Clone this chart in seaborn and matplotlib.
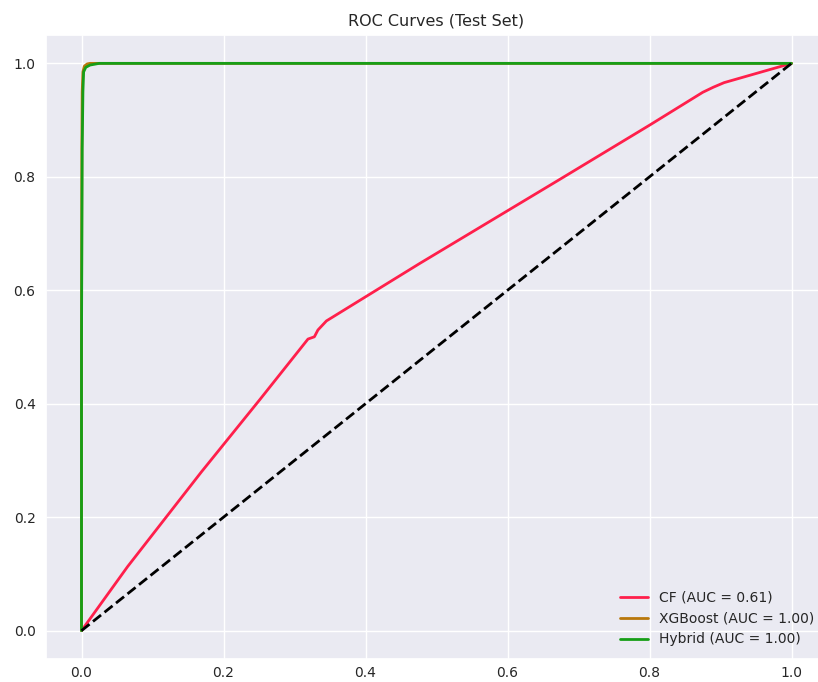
import numpy as np
import pandas as pd
import seaborn as sns
import matplotlib
matplotlib.use("Agg")
import matplotlib.pyplot as plt

# ROC curve points
cf_fpr = [0.0, 0.065, 0.169, 0.251, 0.319, 0.328, 0.333, 0.345, 0.476, 0.673, 0.800, 0.875, 0.890, 0.905, 1.0]
cf_tpr = [0.0, 0.113, 0.280, 0.407, 0.514, 0.518, 0.530, 0.546, 0.647, 0.795, 0.891, 0.949, 0.958, 0.966, 1.0]

xgb_fpr = [0.0, 0.0, 0.0005, 0.001, 0.002, 0.004, 0.008, 0.012, 1.0]
xgb_tpr = [0.0, 0.50, 0.85, 0.95, 0.985, 0.995, 0.999, 1.0, 1.0]

hyb_fpr = [0.0, 0.0, 0.001, 0.002, 0.003, 0.006, 0.012, 0.025, 1.0]
hyb_tpr = [0.0, 0.50, 0.85, 0.95, 0.985, 0.993, 0.997, 1.0, 1.0]

labels = ["CF (AUC = 0.61)", "XGBoost (AUC = 1.00)", "Hybrid (AUC = 1.00)"]
colors = ["#ff1f4b", "#b8770b", "#179e17"]

ticks = [0.0, 0.2, 0.4, 0.6, 0.8, 1.0]
tick_labels = ["0.0", "0.2", "0.4", "0.6", "0.8", "1.0"]

sns.set_theme(style="darkgrid")
plt.rcParams['font.family'] = ['DejaVu Sans']

fig = plt.figure(figsize=(8.18, 6.82), dpi=100)
ax = fig.add_axes([46 / 818, (682 - 659) / 682, 781 / 818, (659 - 35) / 682])

curves = [(cf_fpr, cf_tpr), (xgb_fpr, xgb_tpr), (hyb_fpr, hyb_tpr)]
for (fx, fy), lab, col in zip(curves, labels, colors):
    df = pd.DataFrame({"fpr": fx, "tpr": fy})
    sns.lineplot(data=df, x="fpr", y="tpr", ax=ax, label=lab, color=col,
                 linewidth=2, sort=False, estimator=None)

ax.plot([0, 1], [0, 1], linestyle="--", color="black", linewidth=2)

ax.set_xlim(-0.05, 1.05)
ax.set_ylim(-0.05, 1.05)
ax.set_xticks(ticks)
ax.set_xticklabels(tick_labels)
ax.set_yticks(ticks)
ax.set_yticklabels(tick_labels)
ax.tick_params(axis="y", labelsize=10, length=0, pad=7.5)
ax.tick_params(axis="x", labelsize=10, length=0, pad=5)
ax.set_xlabel("")
ax.set_ylabel("")
ax.set_title("ROC Curves (Test Set)", fontsize=11.5, pad=7)
ax.legend(loc="lower right", frameon=False, fontsize=10)

fig.savefig("out.png", dpi=100)
